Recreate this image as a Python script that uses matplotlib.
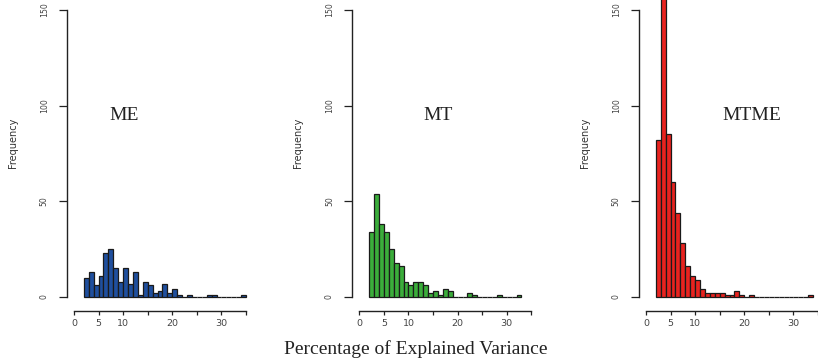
import matplotlib
matplotlib.use("Agg")
import matplotlib.pyplot as plt
import numpy as np

# ---- data (histogram counts, bins of width 1 starting at 2) ----
bin_start = 2
bin_width = 1
me_counts = [10, 13, 6, 11, 23, 25, 15, 8, 15, 7, 13, 1, 8, 6, 2, 3, 7, 2, 4, 1,
             0, 1, 0, 0, 0, 1, 1, 0, 0, 0, 0, 0, 1]
mt_counts = [34, 54, 38, 34, 25, 18, 16, 8, 6, 8, 8, 6, 2, 3, 1, 4, 3, 0, 0, 0,
             2, 1, 0, 0, 0, 0, 1, 0, 0, 0, 1]
mtme_counts = [82, 158, 85, 60, 44, 28, 16, 11, 9, 4, 2, 2, 2, 2, 1, 1, 3, 1, 0, 1,
               0, 0, 0, 0, 0, 0, 0, 0, 0, 0, 0, 1]
panel_names = ["ME", "MT", "MTME"]
panel_colors = ["#1f4f9e", "#3bad3b", "#e8231f"]
x_ticks = [0, 5, 10, 15, 20, 25, 30, 35]
x_tick_labels = ["0", "5", "10", "", "20", "", "30", ""]
y_ticks = [0, 50, 100, 150]
y_tick_labels = ["0", "50", "100", "150"]
x_label = "Percentage of Explained Variance"
y_label = "Frequency"

W, H = 818, 364
fig = plt.figure(figsize=(W / 100, H / 100), dpi=100)

lefts_px = [67.1, 352.4, 639.1]
ax_w_px = 185.8
ax_bottom_px = 311.3
ax_h_px = 312.8
label_pos = [10.2, 16.0, 21.6]

all_counts = [me_counts, mt_counts, mtme_counts]
narrow = ["Liberation Sans Narrow", "DejaVu Sans"]

for i, counts in enumerate(all_counts):
    ax = fig.add_axes([lefts_px[i] / W, 1 - ax_bottom_px / H, ax_w_px / W, ax_h_px / H])
    lefts = bin_start + bin_width * np.arange(len(counts))
    ax.bar(lefts, counts, width=bin_width, align="edge", color=panel_colors[i],
           edgecolor="#1a1a1a", linewidth=0.9)
    ax.set_xlim(-1.4, 36.4)
    ax.set_ylim(-7.5, 156)
    for s in ["top", "right"]:
        ax.spines[s].set_visible(False)
    ax.spines["left"].set_bounds(0, 150)
    ax.spines["bottom"].set_bounds(0, 35)
    for s in ["left", "bottom"]:
        ax.spines[s].set_linewidth(1.0)
        ax.spines[s].set_color("#222222")
    ax.set_xticks(x_ticks)
    ax.set_xticklabels(x_tick_labels, fontsize=6.8, color="#444444",
                       family="DejaVu Sans")
    ax.set_yticks(y_ticks)
    ax.set_yticklabels(y_tick_labels, rotation=90, fontsize=5.6, color="#444444",
                       family=narrow, va="center")
    ax.tick_params(axis="x", length=2.6, width=0.9, pad=3, color="#222222")
    ax.tick_params(axis="y", length=5.8, width=0.9, pad=7.5, color="#222222")
    ax.patch.set_alpha(0)
    ax.text(-54 / ax_w_px, 0.538, y_label, transform=ax.transAxes, rotation=90,
            ha="center", va="center", fontsize=7, color="#333333", family=narrow)
    ax.text(label_pos[i], 92.5, panel_names[i], ha="center", va="baseline",
            fontsize=14, color="#222222", family="Liberation Serif")

fig.text(416 / W, 1 - 354 / H, x_label, ha="center", va="baseline",
         fontsize=14, color="#222222", family="Liberation Serif")

fig.savefig("out.png", dpi=100)
